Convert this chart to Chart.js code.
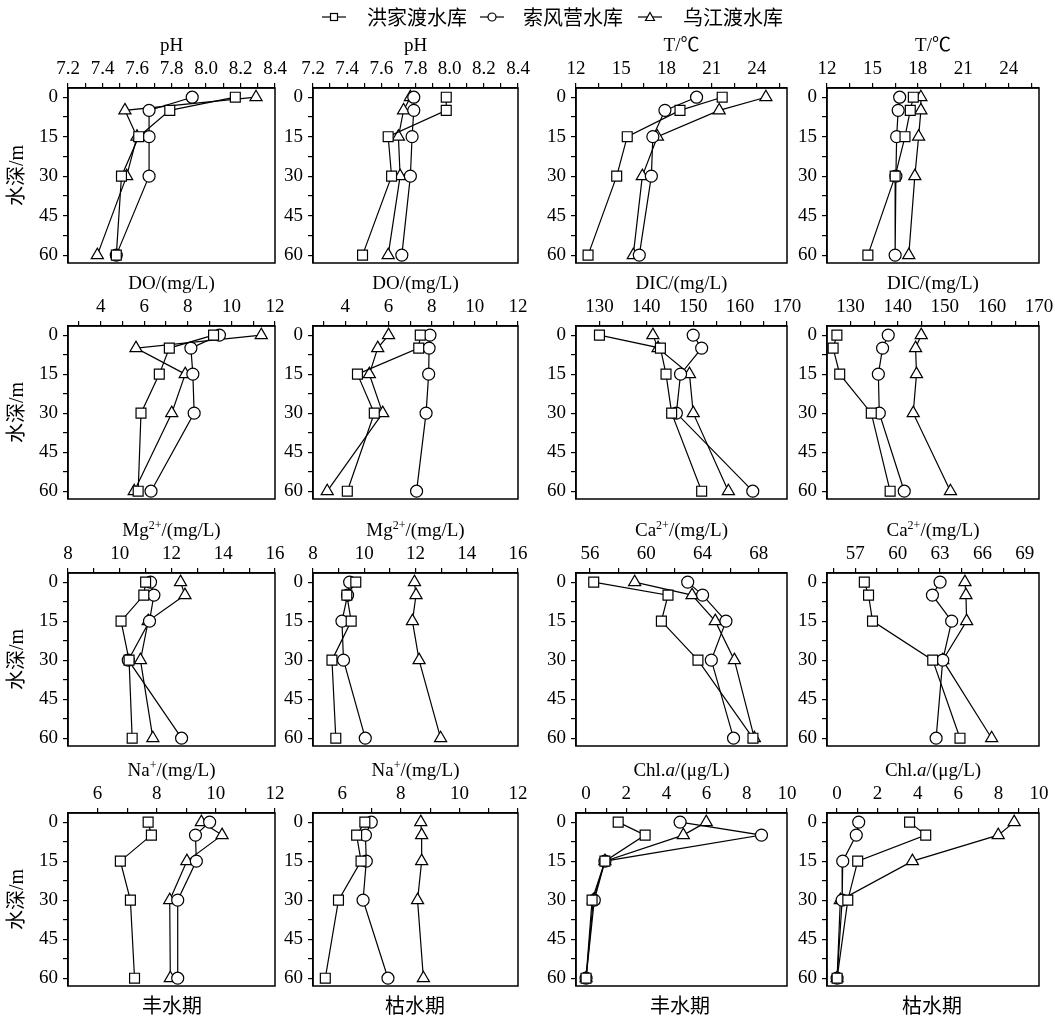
<!DOCTYPE html>
<html>
<head>
<meta charset="utf-8">
<script src="https://cdn.jsdelivr.net/npm/chart.js@4.4.1/dist/chart.umd.min.js"></script>
<style>
  body {
    margin: 0;
    background: #fff;
    width: 1055px;
    height: 1022px;
    position: relative;
    overflow: hidden;
  }
  .cjk {
    position: absolute;
    font-family: "Noto Sans CJK SC", sans-serif;
    font-size: 20px;
    line-height: 24px;
    color: #000;
    white-space: nowrap;
  }
  .sym {
    position: absolute;
  }
</style>
</head>
<body>
<script>
// depth of each sample (m)
const depths = [0, 5, 15, 30, 60];
const seriesNames = ["洪家渡水库", "索风营水库", "乌江渡水库"];

// values per reservoir, order: 洪家渡, 索风营, 乌江渡
const phWet = [[8.17, 7.79, 7.61, 7.51, 7.48], [7.92, 7.67, 7.67, 7.67, 7.48], [8.29, 7.53, 7.60, 7.54, 7.37]];
const phDry = [[7.98, 7.98, 7.64, 7.66, 7.49], [7.79, 7.79, 7.78, 7.77, 7.72], [7.77, 7.73, 7.70, 7.71, 7.64]];
const tWet = [[21.7, 18.9, 15.4, 14.7, 12.8], [20.0, 17.9, 17.1, 17.0, 16.2], [24.6, 21.5, 17.4, 16.4, 15.8]];
const tDry = [[17.7, 17.5, 17.15, 16.5, 14.7], [16.8, 16.7, 16.6, 16.55, 16.5], [18.2, 18.2, 18.05, 17.8, 17.4]];
const doWet = [[9.18, 7.15, 6.69, 5.85, 5.72], [9.45, 8.14, 8.23, 8.29, 6.31], [11.37, 5.62, 7.88, 7.26, 5.54]];
const doDry = [[7.47, 7.40, 4.56, 5.34, 4.09], [7.92, 7.88, 7.86, 7.74, 7.30], [6.0, 5.50, 5.11, 5.73, 3.16]];
const dicWet = [[130, 143.0, 144.2, 145.4, 151.8], [150, 151.8, 147.3, 146.4, 162.7], [141.4, 142.5, 149.2, 150.0, 157.5]];
const dicDry = [[127.1, 126.3, 127.7, 134.4, 138.4], [138.0, 136.8, 135.9, 136.1, 141.4], [145.0, 143.8, 144.0, 143.3, 151.2]];
const mgWet = [[11.0, 10.93, 10.05, 10.36, 10.48], [11.19, 11.32, 11.15, 10.33, 12.39], [12.35, 12.52, 11.1, 10.8, 11.28]];
const mgDry = [[9.67, 9.32, 9.49, 8.74, 8.89], [9.43, 9.35, 9.13, 9.19, 10.04], [11.96, 12.02, 11.88, 12.14, 12.98]];
const caWet = [[56.26, 61.54, 61.07, 63.67, 67.58], [62.94, 64.0, 65.66, 64.62, 66.2], [59.17, 63.25, 64.9, 66.26, 67.68]];
const caDry = [[57.64, 57.94, 58.22, 62.48, 64.41], [63.0, 62.46, 63.82, 63.19, 62.72], [64.76, 64.83, 64.88, 63.19, 66.65]];
const naWet = [[7.71, 7.82, 6.77, 7.11, 7.25], [9.79, 9.31, 9.34, 8.71, 8.71], [9.51, 10.21, 9.02, 8.44, 8.46]];
const naDry = [[6.77, 6.49, 6.64, 5.87, 5.42], [6.99, 6.79, 6.82, 6.71, 7.56], [8.68, 8.71, 8.71, 8.57, 8.77]];
const chlWet = [[1.6, 2.94, 0.94, 0.3, 0], [4.68, 8.73, 0.94, 0.41, 0], [5.98, 4.84, 0.94, 0.36, 0]];
const chlDry = [[3.59, 4.39, 1.02, 0.53, 0], [1.07, 0.95, 0.28, 0.25, 0], [8.77, 7.98, 3.73, 0.16, 0]];

// tick labels (major) and unlabeled minor ticks
const phMajor = [7.2, 7.4, 7.6, 7.8, 8.0, 8.2, 8.4];
const phMinor = [7.3, 7.5, 7.7, 7.9, 8.1, 8.3];
const tMajor = [12, 15, 18, 21, 24];
const tMinor = [13.5, 16.5, 19.5, 22.5, 25.5];
const doMajor = [4, 6, 8, 10, 12];
const doMinor = [3, 5, 7, 9, 11];
const dicMajor = [130, 140, 150, 160, 170];
const dicMinor = [135, 145, 155, 165];
const mgMajor = [8, 10, 12, 14, 16];
const mgMinor = [9, 11, 13, 15];
const caWetMajor = [56, 60, 64, 68];
const caWetMinor = [58, 62, 66];
const caDryMajor = [57, 60, 63, 66, 69];
const caDryMinor = [55.5, 58.5, 61.5, 64.5, 67.5];
const naMajor = [6, 8, 10, 12];
const naMinor = [7, 9, 11];
const chlMajor = [0, 2, 4, 6, 8, 10];
const chlMinor = [1, 3, 5, 7, 9];
const depthMajor = [0, 15, 30, 45, 60];
const depthMinor = [7.5, 22.5, 37.5, 52.5];

const serif = '"Liberation Serif", "Noto Sans CJK SC", serif';

// layout of the 4x4 plot areas (px)
const colLeft = [68, 313, 576, 827];
const colWidth = [207, 205, 211, 212];
const rowTop = [88, 326, 573, 813];
const rowHeight = [175, 173, 173, 173];

const pointStyles = ["rect", "circle", "triangle"];
const pointRadii = [7, 6, 7];

const panels = [
  { row: 0, col: 0, title: [["pH"]], min: 7.2, max: 8.4, major: phMajor, minor: phMinor, data: phWet, dec: 1 },
  { row: 0, col: 1, title: [["pH"]], min: 7.2, max: 8.4, major: phMajor, minor: phMinor, data: phDry, dec: 1 },
  { row: 0, col: 2, title: [["T/℃"]], min: 12, max: 26, major: tMajor, minor: tMinor, data: tWet, dec: 0 },
  { row: 0, col: 3, title: [["T/℃"]], min: 12, max: 26, major: tMajor, minor: tMinor, data: tDry, dec: 0 },
  { row: 1, col: 0, title: [["DO/(mg/L)"]], min: 2.5, max: 12, major: doMajor, minor: doMinor, data: doWet, dec: 0 },
  { row: 1, col: 1, title: [["DO/(mg/L)"]], min: 2.5, max: 12, major: doMajor, minor: doMinor, data: doDry, dec: 0 },
  { row: 1, col: 2, title: [["DIC/(mg/L)"]], min: 125, max: 170, major: dicMajor, minor: dicMinor, data: dicWet, dec: 0 },
  { row: 1, col: 3, title: [["DIC/(mg/L)"]], min: 125, max: 170, major: dicMajor, minor: dicMinor, data: dicDry, dec: 0 },
  { row: 2, col: 0, title: [["Mg"], ["2+", "sup"], ["/(mg/L)"]], min: 8, max: 16, major: mgMajor, minor: mgMinor, data: mgWet, dec: 0 },
  { row: 2, col: 1, title: [["Mg"], ["2+", "sup"], ["/(mg/L)"]], min: 8, max: 16, major: mgMajor, minor: mgMinor, data: mgDry, dec: 0 },
  { row: 2, col: 2, title: [["Ca"], ["2+", "sup"], ["/(mg/L)"]], min: 55, max: 70, major: caWetMajor, minor: caWetMinor, data: caWet, dec: 0 },
  { row: 2, col: 3, title: [["Ca"], ["2+", "sup"], ["/(mg/L)"]], min: 55, max: 70, major: caDryMajor, minor: caDryMinor, data: caDry, dec: 0 },
  { row: 3, col: 0, title: [["Na"], ["+", "sup"], ["/(mg/L)"]], min: 5, max: 12, major: naMajor, minor: naMinor, data: naWet, dec: 0 },
  { row: 3, col: 1, title: [["Na"], ["+", "sup"], ["/(mg/L)"]], min: 5, max: 12, major: naMajor, minor: naMinor, data: naDry, dec: 0 },
  { row: 3, col: 2, title: [["Chl."], ["a", "it"], ["/(μg/L)"]], min: -0.5, max: 10, major: chlMajor, minor: chlMinor, data: chlWet, dec: 0 },
  { row: 3, col: 3, title: [["Chl."], ["a", "it"], ["/(μg/L)"]], min: -0.5, max: 10, major: chlMajor, minor: chlMinor, data: chlDry, dec: 0 },
];

// Title above the top axis, with superscript / italic pieces
const axisTitlePlugin = {
  id: "axisTitle",
  afterDraw(chart, args, opts) {
    const ctx = chart.ctx;
    const area = chart.chartArea;
    const fontFor = (p) => (p[1] === "it" ? "italic " : "") + (p[1] === "sup" ? 12 : 19) + "px " + serif;
    ctx.save();
    ctx.fillStyle = "#000";
    ctx.textBaseline = "alphabetic";
    let total = 0;
    opts.parts.forEach((p) => {
      ctx.font = fontFor(p);
      total += ctx.measureText(p[0]).width;
    });
    let x = (area.left + area.right) / 2 - total / 2;
    const base = area.top - 37;
    opts.parts.forEach((p) => {
      ctx.font = fontFor(p);
      ctx.fillText(p[0], x, p[1] === "sup" ? base - 7 : base);
      x += ctx.measureText(p[0]).width;
    });
    ctx.restore();
  },
};

// Box around the plot area
const framePlugin = {
  id: "frame",
  afterDraw(chart) {
    const ctx = chart.ctx;
    const a = chart.chartArea;
    ctx.save();
    ctx.strokeStyle = "#000";
    ctx.lineWidth = 1.5;
    ctx.strokeRect(a.left, a.top, a.right - a.left, a.bottom - a.top);
    ctx.restore();
  },
};

panels.forEach((p) => {
  const yw = p.col === 0 ? 68 : 45;
  const xh = 62;
  const padR = 20;
  const padB = 22;
  const w = yw + colWidth[p.col] + padR;
  const h = xh + rowHeight[p.row] + padB;

  const canvas = document.createElement("canvas");
  canvas.width = w;
  canvas.height = h;
  canvas.style.cssText = `position:absolute;left:${colLeft[p.col] - yw}px;top:${rowTop[p.row] - xh}px;width:${w}px;height:${h}px`;
  document.body.appendChild(canvas);

  const xTicks = p.major.concat(p.minor).sort((a, b) => a - b);
  const yTicks = depthMajor.concat(depthMinor).sort((a, b) => a - b);

  new Chart(canvas, {
    type: "scatter",
    data: {
      datasets: p.data.map((vals, k) => ({
        label: seriesNames[k],
        data: depths.map((d, j) => ({ x: vals[j], y: d })),
        showLine: true,
        borderColor: "#000",
        borderWidth: 1.2,
        pointStyle: pointStyles[k],
        pointRadius: pointRadii[k],
        pointBackgroundColor: "#fff",
        pointBorderColor: "#000",
        pointBorderWidth: 1.2,
        tension: 0,
      })),
    },
    options: {
      responsive: false,
      animation: false,
      layout: { padding: { left: 0, top: 0, right: padR, bottom: padB } },
      plugins: {
        legend: { display: false },
        tooltip: { enabled: false },
        axisTitle: { parts: p.title },
      },
      scales: {
        x: {
          type: "linear",
          position: "top",
          min: p.min,
          max: p.max,
          afterFit: (s) => { s.height = xh; },
          afterBuildTicks: (s) => { s.ticks = xTicks.map((v) => ({ value: v })); },
          ticks: {
            autoSkip: false,
            maxRotation: 0,
            padding: 3,
            color: "#000",
            font: { family: serif, size: 19 },
            callback: (v) => (p.major.includes(v) ? v.toFixed(p.dec) : ""),
          },
          grid: { drawOnChartArea: false, drawTicks: true, tickLength: 5, color: "#000", lineWidth: 1.2 },
          border: { color: "#000", width: 1.5 },
        },
        y: {
          type: "linear",
          reverse: true,
          min: -3.5,
          max: 63,
          afterFit: (s) => { s.width = yw; },
          afterBuildTicks: (s) => { s.ticks = yTicks.map((v) => ({ value: v })); },
          ticks: {
            autoSkip: false,
            padding: 5,
            color: "#000",
            font: { family: serif, size: 19 },
            callback: (v) => (depthMajor.includes(v) ? String(v) : ""),
          },
          grid: { drawOnChartArea: false, drawTicks: true, tickLength: 5, color: "#000", lineWidth: 1.2 },
          border: { color: "#000", width: 1.5 },
          title: {
            display: p.col === 0,
            text: "水深/m",
            color: "#000",
            font: { family: serif, size: 20 },
            padding: { top: 6, bottom: 0 },
          },
        },
      },
    },
    plugins: [axisTitlePlugin, framePlugin],
  });
});

// Legend: line + marker symbol followed by the reservoir name
const legendSymbolLeft = [322, 480, 638];
const legendTextLeft = [367, 523, 683];
seriesNames.forEach((name, k) => {
  const svgNS = "http://www.w3.org/2000/svg";
  const svg = document.createElementNS(svgNS, "svg");
  svg.setAttribute("width", "24");
  svg.setAttribute("height", "14");
  svg.setAttribute("class", "sym");
  svg.style.left = legendSymbolLeft[k] + "px";
  svg.style.top = "10px";
  const line = document.createElementNS(svgNS, "line");
  line.setAttribute("x1", "0");
  line.setAttribute("y1", "7");
  line.setAttribute("x2", "24");
  line.setAttribute("y2", "7");
  line.setAttribute("stroke", "#000");
  line.setAttribute("stroke-width", "1.2");
  svg.appendChild(line);
  let mark;
  if (k === 0) {
    mark = document.createElementNS(svgNS, "rect");
    mark.setAttribute("x", "8.5");
    mark.setAttribute("y", "3.5");
    mark.setAttribute("width", "7");
    mark.setAttribute("height", "7");
  } else if (k === 1) {
    mark = document.createElementNS(svgNS, "circle");
    mark.setAttribute("cx", "12");
    mark.setAttribute("cy", "7");
    mark.setAttribute("r", "4");
  } else {
    mark = document.createElementNS(svgNS, "polygon");
    mark.setAttribute("points", "12,2.5 16.5,10.5 7.5,10.5");
  }
  mark.setAttribute("fill", "#fff");
  mark.setAttribute("stroke", "#000");
  mark.setAttribute("stroke-width", "1.2");
  svg.appendChild(mark);
  document.body.appendChild(svg);

  const label = document.createElement("div");
  label.className = "cjk";
  label.style.left = legendTextLeft[k] + "px";
  label.style.top = "5px";
  label.textContent = name;
  document.body.appendChild(label);
});

// Season labels under each column
const seasonNames = ["丰水期", "枯水期", "丰水期", "枯水期"];
const seasonCenter = [172, 415, 680, 932];
seasonNames.forEach((name, i) => {
  const el = document.createElement("div");
  el.className = "cjk";
  el.style.left = seasonCenter[i] - 50 + "px";
  el.style.width = "100px";
  el.style.textAlign = "center";
  el.style.top = "993px";
  el.textContent = name;
  document.body.appendChild(el);
});
</script>
</body>
</html>
